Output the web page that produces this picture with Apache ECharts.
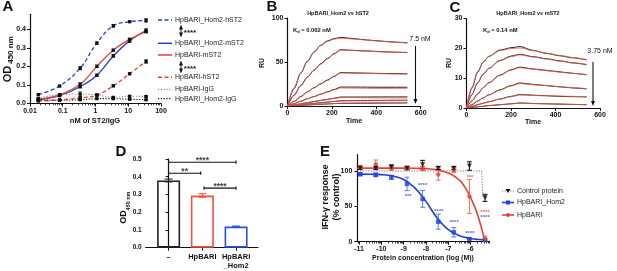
<!DOCTYPE html>
<html>
<head>
<meta charset="utf-8">
<script src="https://cdn.jsdelivr.net/npm/echarts@6/dist/echarts.min.js"></script>
<style>
html, body { margin: 0; padding: 0; background: #fff; }
#chart { width: 617px; height: 271px; }
</style>
</head>
<body>
<div id="chart"></div>
<script>
// ---- panel A : ELISA binding curves ----
var concA = [0.018, 0.08, 0.34, 1.1, 3.5, 11, 35];
var namesA = ['HpBARI_Hom2-hST2', 'HpBARI_Hom2-mST2', 'HpBARI-mST2', 'HpBARI-hST2', 'HpBARI-IgG', 'HpBARI_Hom2-IgG'];
var hom2hST2 = [0.048, 0.094, 0.19, 0.325, 0.418, 0.44, 0.447];
var hom2mST2 = [0.02, 0.042, 0.09, 0.152, 0.256, 0.337, 0.393];
var bariMST2 = [0.022, 0.046, 0.103, 0.2, 0.287, 0.345, 0.387];
var bariHST2 = [0.013, 0.02, 0.03, 0.045, 0.095, 0.16, 0.226];
var bariIgG = [0.028, 0.047, 0.05, 0.046, 0.033, 0.039, 0.038];
var hom2IgG = [0.02, 0.017, 0.02, 0.026, 0.026, 0.023, 0.02];
var errHom2hST2 = [0.003, 0.004, 0.008, 0.006, 0.007, 0.004, 0.009];
var errHom2mST2 = [0.003, 0.003, 0.005, 0.005, 0.006, 0.008, 0.009];
var errBariMST2 = [0.003, 0.004, 0.008, 0.006, 0.005, 0.006, 0.007];
var errBariHST2 = [0.002, 0.002, 0.003, 0.004, 0.005, 0.005, 0.009];
var errBariIgG = [0.003, 0.004, 0.012, 0.004, 0.004, 0.004, 0.004];
var errHom2IgG = [0.002, 0.002, 0.002, 0.003, 0.003, 0.003, 0.003];

// ---- panel B : SPR vs hST2 (7.5 nM, 2-fold) ----
var timeB = [0, 30, 60, 90, 120, 150, 180, 210, 240, 300, 360, 420, 480, 540];
var fitB = [
  [0, 21, 38, 51, 61, 68.5, 73.5, 76, 77, 76, 74.8, 73.6, 72.5, 71.5],
  [0, 12, 23, 32.5, 40.5, 47.5, 53.5, 59, 63.5, 63, 62.3, 61.6, 61, 60.5],
  [0, 5.5, 11, 16, 20.5, 25, 29, 33.5, 37.5, 37.3, 37, 36.7, 36.4, 36.2],
  [0, 2.8, 5.6, 8.3, 10.8, 13.3, 15.8, 18.3, 20.5, 20.3, 20.1, 19.9, 19.8, 19.7],
  [0, 1.3, 2.6, 3.8, 5, 6.2, 7.4, 8.6, 9.5, 9.4, 9.3, 9.2, 9.1, 9],
  [0, 0.8, 1.6, 2.3, 3, 3.7, 4.4, 5.1, 5.8, 5.9, 5.9, 6, 6, 6],
  [0, 0.4, 0.8, 1.2, 1.6, 2, 2.4, 2.8, 3.2, 3.4, 3.6, 3.7, 3.8, 4]
];
var dataB = [
  [0, 20, 37.5, 51, 61.5, 69, 74, 76.5, 78, 76.5, 75, 73.8, 72.6, 71.8],
  [0, 12.5, 23.5, 33, 41, 48, 54, 59.5, 64, 63.2, 62.5, 61.8, 61.2, 60.8],
  [0, 5.2, 10.7, 16, 20.8, 25.3, 29.5, 33.8, 38, 37.6, 37.3, 37, 36.8, 36.6],
  [0, 2.6, 5.4, 8.2, 10.8, 13.5, 16.1, 18.8, 21.5, 21.5, 21.4, 21.3, 21.3, 21.3],
  [0, 1.2, 2.5, 3.8, 5.1, 6.4, 7.6, 8.8, 10.2, 10.2, 10.2, 10.3, 10.3, 10.4],
  [0, 0.7, 1.5, 2.3, 3, 3.7, 4.5, 5.2, 6, 6.1, 6.3, 6.4, 6.5, 6.6],
  [0, 0.4, 0.8, 1.2, 1.6, 2, 2.3, 2.7, 3, 3.1, 3.2, 3.3, 3.4, 3.5]
];

// ---- panel C : SPR vs mST2 (3.75 nM, 2-fold) ----
var timeC = [0, 25, 50, 75, 100, 150, 200, 240, 300, 360, 420, 480, 540];
var fitC = [
  [0, 7, 12.3, 15.4, 17.3, 19.2, 19.9, 20.1, 19.2, 18.4, 17.6, 16.9, 16.2],
  [0, 4.5, 8.4, 11.2, 13.2, 15.8, 17.2, 17.8, 17.1, 16.4, 15.7, 15.1, 14.6],
  [0, 2.5, 4.8, 6.8, 8.4, 10.9, 12.7, 13.5, 13, 12.5, 12, 11.6, 11.2],
  [0, 1.2, 2.4, 3.4, 4.4, 6, 7.4, 8.2, 7.8, 7.5, 7.1, 6.8, 6.5],
  [0, 0.6, 1.1, 1.6, 2.1, 3, 3.8, 4.4, 4.2, 4.1, 4, 3.9, 3.8],
  [0, 0.2, 0.4, 0.6, 0.8, 1.1, 1.4, 1.6, 1.5, 1.4, 1.3, 1.2, 1.1]
];
var dataC = [
  [0, 6.8, 12, 15.3, 17.3, 19.4, 20.2, 20.6, 19.3, 18.3, 17.5, 16.8, 16.1],
  [0, 4.6, 8.5, 11.3, 13.3, 15.9, 17.4, 18, 17.2, 16.5, 15.8, 15.1, 14.5],
  [0, 2.4, 4.7, 6.8, 8.5, 11, 12.8, 13.7, 13.1, 12.6, 12.1, 11.6, 11.1],
  [0, 1.1, 2.3, 3.4, 4.4, 6.1, 7.5, 8.4, 7.9, 7.5, 7.1, 6.7, 6.4],
  [0, 0.5, 1.1, 1.6, 2.1, 3, 3.9, 4.5, 4.3, 4.1, 3.9, 3.8, 3.7],
  [0, 0.2, 0.4, 0.6, 0.8, 1.1, 1.4, 1.7, 1.5, 1.4, 1.3, 1.2, 1.1]
];

// ---- panel D : bars ----
var catsD = ['\u2013', 'HpBARI', 'HpBARI\n_Hom2'];
var valsD = [0.379, 0.294, 0.119];
var errD = [0.008, 0.01, 0.003];

// ---- panel E : IFN-gamma inhibition ----
var logM = [-10.95, -10.25, -9.55, -8.85, -8.15, -7.45, -6.75, -6.05, -5.35];
var hom2E = [95.4, 94.5, 91, 81.7, 60.5, 28.3, 13.3, 3.8, 2.4];
var hom2Err = [2, 2.5, 3, 9.5, 11.8, 10.6, 6.6, 1, 1];
var bariE = [105, 109.5, 104, 104, 103.5, 95, 101, 64, 4];
var bariErr = [3, 6, 3, 3, 3, 8, 3, 24, 4];
var ctrlE = [104, 104, 106, 104, 109, 104, 104, 107, 62];
var ctrlErr = [2, 2, 2, 2, 6, 2, 2, 6, 5];
var hom2FitX = [-11.08, -10.5, -10, -9.5, -9, -8.5, -8, -7.5, -7, -6.5, -6, -5.6, -5.35];
var hom2FitY = [95.5, 95.3, 94.8, 93, 88, 76, 57, 33.5, 17, 8.5, 4.5, 3, 2.5];
var bariFitX = [-11.08, -10, -9, -8.5, -8, -7.5, -7, -6.7, -6.4, -6.05, -5.75, -5.55, -5.38];
var bariFitY = [104, 104, 104, 103.8, 103.3, 101.5, 97, 92, 84, 66, 44, 24, 4];
var ctrlFitX = [-11.08, -5.5, -5.45];
var ctrlFitY = [100, 100, 63];

var FONT = '"Liberation Sans", Arial, Helvetica, sans-serif';
var BLUE = '#1f3fdc', RED = '#e8412f', INK = '#111';

function pairs(xs, ys) { return xs.map(function (x, i) { return [x, ys[i]]; }); }
function errPairs(xs, ys, es) { return xs.map(function (x, i) { return [x, ys[i] - es[i], ys[i] + es[i]]; }); }

function errorBars(cap, lw) {
  return function (params, api) {
    var x = api.value(0);
    var lo = api.coord([x, api.value(1)]);
    var hi = api.coord([x, api.value(2)]);
    var st = { stroke: api.visual('color'), lineWidth: lw };
    return { type: 'group', children: [
      { type: 'line', shape: { x1: lo[0], y1: lo[1], x2: hi[0], y2: hi[1] }, style: st },
      { type: 'line', shape: { x1: lo[0] - cap, y1: lo[1], x2: lo[0] + cap, y2: lo[1] }, style: st },
      { type: 'line', shape: { x1: hi[0] - cap, y1: hi[1], x2: hi[0] + cap, y2: hi[1] }, style: st }
    ]};
  };
}

function axLine() { return { show: true, lineStyle: { color: INK, width: 1.2 } }; }
function axTick(len) { return { show: true, length: len || 3, lineStyle: { color: INK, width: 1 } }; }
function axLabel(extra) {
  var o = { color: INK, fontSize: 7, fontWeight: 'bold', fontFamily: FONT, margin: 4 };
  for (var k in extra) o[k] = extra[k];
  return o;
}

// minor tick positions (log decades)
var minorA = [], minorE = [];
for (var d = -2; d < 2; d++) for (var k = 2; k < 10; k++) minorA.push(k * Math.pow(10, d));
for (var d2 = -12; d2 < -5; d2++) for (var k2 = 2; k2 < 10; k2++) {
  var v = d2 + Math.log10(k2);
  if (v > -11.08 && v < -5.15) minorE.push(v);
}

var grids = [
  { left: 30, top: 14.3, width: 131, height: 89.2 },
  { left: 287.5, top: 18, width: 133.2, height: 88 },
  { left: 466.5, top: 18.5, width: 133.5, height: 89.5 },
  { left: 145.7, top: 159, width: 112.3, height: 88.7 },
  { left: 357.3, top: 154.7, width: 132.2, height: 87 }
];

var xAxes = [
  { type: 'log', gridIndex: 0, position: 'bottom', min: 0.01, max: 100, axisLine: axLine(), axisTick: axTick(3), splitLine: { show: false },
    axisLabel: axLabel({ formatter: function (v) { return String(+Number(v).toPrecision(2)); }, showMinLabel: true, showMaxLabel: true }) },
  { type: 'log', gridIndex: 0, position: 'bottom', min: 0.01, max: 100, axisLine: { show: false }, splitLine: { show: false },
    axisTick: { show: true, length: 1.8, customValues: minorA, lineStyle: { color: INK, width: 0.8 } }, axisLabel: { show: false } },
  { type: 'value', gridIndex: 1, min: 0, max: 600, interval: 200, axisLine: axLine(), axisTick: axTick(3), splitLine: { show: false }, axisLabel: axLabel() },
  { type: 'value', gridIndex: 2, min: 0, max: 600, interval: 200, axisLine: axLine(), axisTick: axTick(3), splitLine: { show: false }, axisLabel: axLabel() },
  { type: 'value', gridIndex: 3, min: -0.68, max: 2.65, axisLine: axLine(), splitLine: { show: false },
    axisTick: { show: true, length: 3, customValues: [0, 1, 2], lineStyle: { color: INK, width: 1 } },
    axisLabel: axLabel({ customValues: [0, 1, 2], fontSize: 7.5, lineHeight: 9, margin: 5, formatter: function (v) { return catsD[Math.round(v)]; } }) },
  { type: 'value', gridIndex: 4, position: 'bottom', min: -11.08, max: -5.15, axisLine: axLine(), splitLine: { show: false },
    axisTick: { show: true, length: 3, customValues: [-11, -10, -9, -8, -7, -6], lineStyle: { color: INK, width: 1 } },
    axisLabel: axLabel({ customValues: [-11, -10, -9, -8, -7, -6] }) },
  { type: 'value', gridIndex: 4, position: 'bottom', min: -11.08, max: -5.15, axisLine: { show: false }, splitLine: { show: false },
    axisTick: { show: true, length: 1.8, customValues: minorE, lineStyle: { color: INK, width: 0.8 } }, axisLabel: { show: false } }
];

var yAxes = [
  { type: 'value', gridIndex: 0, min: 0, max: 0.48, axisLine: axLine(), splitLine: { show: false },
    axisTick: { show: true, length: 3, customValues: [0, 0.1, 0.2, 0.3, 0.4], lineStyle: { color: INK, width: 1 } },
    axisLabel: axLabel({ customValues: [0, 0.1, 0.2, 0.3, 0.4], formatter: function (v) { return v.toFixed(1); } }) },
  { type: 'value', gridIndex: 1, min: 0, max: 100, interval: 50, axisLine: axLine(), axisTick: axTick(3), splitLine: { show: false }, axisLabel: axLabel() },
  { type: 'value', gridIndex: 2, min: 0, max: 30, interval: 10, axisLine: axLine(), axisTick: axTick(3), splitLine: { show: false }, axisLabel: axLabel() },
  { type: 'value', gridIndex: 3, min: 0, max: 0.5, interval: 0.1, axisLine: axLine(), axisTick: axTick(3), splitLine: { show: false },
    axisLabel: axLabel({ fontSize: 6.5, formatter: function (v) { return v.toFixed(1); } }) },
  { type: 'value', gridIndex: 4, min: 0, max: 123, axisLine: axLine(), splitLine: { show: false },
    axisTick: { show: true, length: 3, customValues: [0, 50, 100], lineStyle: { color: INK, width: 1 } },
    axisLabel: axLabel({ customValues: [0, 50, 100], margin: 5 }) }
];

var series = [];

// A
var seriesA = [
  { data: hom2hST2, err: errHom2hST2, color: BLUE, type: [4, 2.5], w: 1.3 },
  { data: hom2mST2, err: errHom2mST2, color: BLUE, type: 'solid', w: 1.3 },
  { data: bariMST2, err: errBariMST2, color: RED, type: 'solid', w: 1.3 },
  { data: bariHST2, err: errBariHST2, color: RED, type: [4, 2.5], w: 1.3 },
  { data: bariIgG, err: errBariIgG, color: '#8a8a8a', type: [1.2, 1.6], w: 1.1 },
  { data: hom2IgG, err: errHom2IgG, color: INK, type: [1.2, 1.6], w: 1.1 }
];
seriesA.forEach(function (s, i) {
  series.push({ name: namesA[i], type: 'line', xAxisIndex: 0, yAxisIndex: 0, smooth: 0.4, data: pairs(concA, s.data),
    symbol: 'rect', symbolSize: 3.2, itemStyle: { color: '#111' }, lineStyle: { color: s.color, width: s.w, type: s.type }, z: 3 });
  series.push({ type: 'custom', xAxisIndex: 0, yAxisIndex: 0, data: errPairs(concA, s.data, s.err), renderItem: errorBars(1.8, 0.9),
    itemStyle: { color: '#111' }, z: 4 });
});

// B and C
function sprSeries(times, fits, raws, xi, yi) {
  raws.forEach(function (arr) {
    series.push({ type: 'line', xAxisIndex: xi, yAxisIndex: yi, data: pairs(times, arr), symbol: 'none', smooth: 0.3, smoothMonotone: 'x',
      lineStyle: { color: '#2a1a1a', width: 1 }, z: 2 });
  });
  fits.forEach(function (arr) {
    series.push({ type: 'line', xAxisIndex: xi, yAxisIndex: yi, data: pairs(times, arr), symbol: 'none', smooth: 0.3, smoothMonotone: 'x',
      lineStyle: { color: '#e4604f', width: 0.8 }, z: 3 });
  });
}
sprSeries(timeB, fitB, dataB, 2, 1);
sprSeries(timeC, fitC, dataC, 3, 2);

// D
var colorsD = ['#222', '#f0513f', '#2a4fe0'];
series.push({ type: 'bar', xAxisIndex: 4, yAxisIndex: 3, barWidth: 23,
  data: valsD.map(function (v, i) { return { value: [i, v], itemStyle: { color: 'rgba(0,0,0,0)', borderColor: colorsD[i], borderWidth: 1.6 } }; }) });
series.push({ type: 'custom', xAxisIndex: 4, yAxisIndex: 3, renderItem: errorBars(4, 1.1), z: 4,
  data: valsD.map(function (v, i) { return { value: [i, v - errD[i], v + errD[i]], itemStyle: { color: colorsD[i] } }; }) });
var bracketsD = [[0, 2, 0.482, '****'], [0, 0.95, 0.42, '**'], [1.05, 2, 0.336, '****']];
bracketsD.forEach(function (b) {
  series.push({ type: 'line', xAxisIndex: 4, yAxisIndex: 3, symbol: 'none', lineStyle: { color: INK, width: 1.1 },
    data: [[b[0], b[2] - 0.009], [b[0], b[2] + 0.009], '-', [b[0], b[2]], [b[1], b[2]], '-', [b[1], b[2] - 0.009], [b[1], b[2] + 0.009]] });
  series.push({ type: 'scatter', xAxisIndex: 4, yAxisIndex: 3, symbolSize: 0, silent: true,
    data: [[(b[0] + b[1]) / 2, b[2]]],
    label: { show: true, position: 'top', distance: -3, formatter: b[3], color: INK, fontSize: 8.5, fontWeight: 'bold', fontFamily: FONT } });
});

// E
series.push({ type: 'line', xAxisIndex: 5, yAxisIndex: 4, data: pairs(ctrlFitX, ctrlFitY), symbol: 'none',
  lineStyle: { color: '#777', width: 1, type: [1.2, 1.5] }, z: 2 });
series.push({ type: 'line', xAxisIndex: 5, yAxisIndex: 4, data: pairs(hom2FitX, hom2FitY), symbol: 'none', smooth: 0.4,
  lineStyle: { color: BLUE, width: 1.6 }, z: 3 });
series.push({ type: 'line', xAxisIndex: 5, yAxisIndex: 4, data: pairs(bariFitX, bariFitY), symbol: 'none', smooth: 0.4,
  lineStyle: { color: RED, width: 1.6 }, z: 3 });
[[hom2E, hom2Err, 'rgba(40,80,230,0.75)', BLUE, 'rect', 4.5, 0],
 [bariE, bariErr, 'rgba(235,80,60,0.8)', RED, 'circle', 4.5, 0],
 [ctrlE, ctrlErr, INK, INK, 'triangle', 5, 180]].forEach(function (s) {
  series.push({ type: 'custom', xAxisIndex: 5, yAxisIndex: 4, data: errPairs(logM, s[0], s[1]), renderItem: errorBars(2.5, 1),
    itemStyle: { color: s[2] }, z: 4 });
  series.push({ type: 'scatter', xAxisIndex: 5, yAxisIndex: 4, data: pairs(logM, s[0]), symbol: s[4], symbolSize: s[5], symbolRotate: s[6],
    itemStyle: { color: s[3] }, z: 5 });
});
var starsE = [
  [-8.8, 64.5, '***', BLUE], [-8.15, 80, '****', BLUE], [-7.42, 43, '****', BLUE], [-6.74, 27, '****', BLUE],
  [-6.03, 12.5, '****', BLUE], [-5.35, 35, '****', BLUE], [-6.03, 91, '***', RED], [-5.35, 41, '****', RED]
];
series.push({ type: 'scatter', xAxisIndex: 5, yAxisIndex: 4, symbolSize: 0, silent: true, z: 6,
  data: starsE.map(function (s) { return { value: [s[0], s[1]], label: { color: s[3] }, name: s[2] }; }),
  label: { show: true, position: 'inside', formatter: function (p) { return p.name; }, fontSize: 6, fontWeight: 'bold', fontFamily: FONT } });

// ---- annotations ----
function t(x, y, text, size, weight, extra) {
  var el = { type: 'text', x: x, y: y, z: 10, style: { text: text, fill: INK, font: weight + ' ' + size + 'px ' + FONT,
    align: 'center', textAlign: 'center', verticalAlign: 'middle', textVerticalAlign: 'middle' } };
  for (var k in extra) {
    if (k === 'rotation') el.rotation = extra[k];
    else el.style[k] = extra[k];
  }
  return el;
}
function ln(x1, y1, x2, y2, color, w, dash) {
  return { type: 'line', z: 10, shape: { x1: x1, y1: y1, x2: x2, y2: y2 }, style: { stroke: color, lineWidth: w, lineDash: dash || null } };
}
function head(x, y, dir) {
  return { type: 'polygon', z: 10, shape: { points: [[x - 2, y - 5 * dir], [x + 2, y - 5 * dir], [x, y]] }, style: { fill: INK } };
}
var R = Math.PI / 2;
var g = [
  t(8, 7, 'A', 15, 'bold'), t(272, 7, 'B', 15, 'bold'), t(455, 8, 'C', 15, 'bold'),
  t(121, 152, 'D', 15, 'bold'), t(325, 152, 'E', 15, 'bold'),
  // A axis titles
  t(7.5, 74, 'OD', 11, 'bold', { rotation: R }), t(10.5, 50, '450 nm', 8, 'bold', { rotation: R }),
  t(95, 120.5, 'nM of ST2/IgG', 7.5, 'bold'),
  // B / C
  t(338, 13, 'HpBARI_Hom2 vs hST2', 5.5, 'bold'), t(528, 13, 'HpBARI_Hom2 vs mST2', 5.5, 'bold'),
  { type: 'text', x: 293, y: 30, z: 10, style: { text: '{k|K}{s|d}{k| = 0.062 nM}', verticalAlign: 'middle', textVerticalAlign: 'middle',
    rich: { k: { font: 'bold 5.8px ' + FONT, fill: INK }, s: { font: 'bold 4px ' + FONT, fill: INK, padding: [3, 0, 0, 0] } } } },
  { type: 'text', x: 483, y: 30, z: 10, style: { text: '{k|K}{s|d}{k| = 0.14 nM}', verticalAlign: 'middle', textVerticalAlign: 'middle',
    rich: { k: { font: 'bold 5.8px ' + FONT, fill: INK }, s: { font: 'bold 4px ' + FONT, fill: INK, padding: [3, 0, 0, 0] } } } },
  t(262, 63, 'RU', 7, 'bold', { rotation: R }), t(449, 63, 'RU', 7, 'bold', { rotation: R }),
  t(354, 121.5, 'Time', 7, 'bold'), t(533, 122, 'Time', 7, 'bold'),
  t(420, 39.5, '7.5 nM', 7, 'normal'), t(600, 51, '3.75 nM', 7, 'normal'),
  ln(415.5, 46, 415.5, 100, INK, 1.1), head(415.5, 104, 1),
  ln(593, 62, 593, 102, INK, 1.1), head(593, 106, 1),
  // D
  t(124, 217, 'OD', 9, 'bold', { rotation: R }), t(128, 201, '450 nm', 5.5, 'bold', { rotation: R }),
  // E
  t(325.5, 197, 'IFN-\u03b3 response', 9, 'bold', { rotation: R }), t(336.5, 197, '(% control)', 9, 'bold', { rotation: R }),
  t(423, 258, 'Protein concentration (log (M))', 7, 'bold'),
  // legend A
  ln(181, 27, 181, 35, INK, 0.9), head(181, 24.5, -1), head(181, 37.5, 1), t(190, 32.5, '****', 8, 'bold'),
  ln(181, 63, 181, 71, INK, 0.9), head(181, 60.5, -1), head(181, 73.5, 1), t(190, 68.5, '****', 8, 'bold')
];
var rowsA = [20, 43.3, 55, 77.3, 89.3, 98.7];
seriesA.forEach(function (s, i) {
  g.push(ln(158, rowsA[i], 172, rowsA[i], s.color, s.w + 0.2, typeof s.type === 'string' ? null : s.type));
  g.push(t(175, rowsA[i], namesA[i], 7, 'normal', { align: 'left', textAlign: 'left', fill: '#222' }));
});
// legend E
var legendE = [['Control protein', 191, '#777', INK, [1.2, 1.5]], ['HpBARI_Hom2', 202.5, BLUE, BLUE, null], ['HpBARI', 215, RED, RED, null]];
legendE.forEach(function (r, i) {
  g.push(ln(502, r[1], 514, r[1], r[2], r[4] ? 1 : 1.6, r[4]));
  if (i === 0) g.push({ type: 'polygon', z: 11, shape: { points: [[505.5, r[1] - 2], [510.5, r[1] - 2], [508, r[1] + 2]] }, style: { fill: INK } });
  if (i === 1) g.push({ type: 'rect', z: 11, shape: { x: 506, y: r[1] - 2, width: 4, height: 4 }, style: { fill: BLUE } });
  if (i === 2) g.push({ type: 'circle', z: 11, shape: { cx: 508, cy: r[1], r: 2 }, style: { fill: RED } });
  g.push(t(517, r[1], r[0], 7, 'normal', { align: 'left', textAlign: 'left', fill: '#222' }));
});

var chart = echarts.init(document.getElementById('chart'));
chart.setOption({
  animation: false,
  backgroundColor: '#fff',
  grid: grids,
  xAxis: xAxes,
  yAxis: yAxes,
  series: series,
  graphic: g
});
</script>
</body>
</html>
